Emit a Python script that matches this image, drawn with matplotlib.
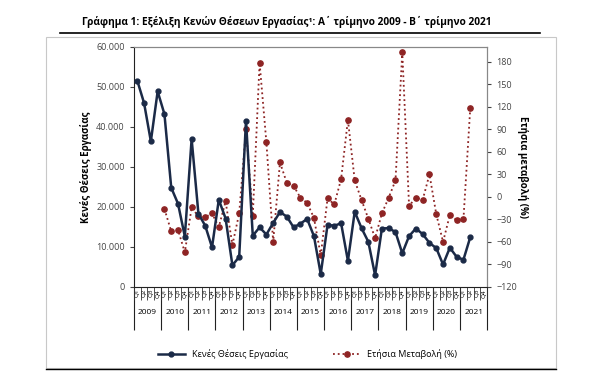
import matplotlib.pyplot as plt
from matplotlib.ticker import FuncFormatter
from matplotlib.lines import Line2D
from matplotlib.patches import Rectangle

plt.rcParams["font.family"] = ["Open Sans", "DejaVu Sans"]

# 2009 Q1 ... 2021 Q4 (data up to 2021 Q2)
years = [str(y) for y in range(2009, 2022)]
quarters = ["Q1", "Q2", "Q3", "Q4"]

vacancies = [51600, 46000, 36400, 48900, 43200, 24800, 20800, 12600,
             37000, 18300, 15300, 9900, 21800, 17100, 5400, 7500,
             41600, 12800, 14900, 13100, 16000, 18700, 17600, 14900,
             15800, 17000, 12700, 3200, 15500, 15300, 15900, 6500,
             18800, 14700, 11300, 2900, 14600, 14700, 13700, 8400,
             12700, 14600, 13200, 11000, 9700, 5600, 9800, 7500,
             6800, 12400]

# annual change (%), starts at 2010 Q1
annual_change = [-16, -46, -44, -74, -14, -26, -27, -22,
                 -40, -6, -64, -22, 91, -25, 179, 73,
                 -60, 46, 19, 15, -1, -8, -28, -78,
                 -2, -10, 24, 103, 22, -4, -29, -55,
                 -22, -1, 22, 193, -12, -1, -4, 30,
                 -23, -60, -24, -31, -30, 118]

n_slots = len(years) * 4
x_vac = list(range(len(vacancies)))
x_chg = list(range(4, 4 + len(annual_change)))

blue = "#1b2a47"
red = "#8e2424"

fig = plt.figure(figsize=(6.03, 3.82), dpi=100)
# outer frame of the chart
fig.add_artist(Rectangle((0.077, 0.037), 0.845, 0.865, transform=fig.transFigure,
                         fill=False, edgecolor="#c8c8c8", lw=0.8))
fig.add_artist(Line2D([0.077, 0.922], [0.035, 0.035], color="black", lw=1.0))

ax = fig.add_axes([0.222, 0.249, 0.586, 0.628])
ax2 = ax.twinx()

ax.plot(x_vac, vacancies, color=blue, lw=1.8, marker="o", ms=3.5, zorder=3)
ax2.plot(x_chg, annual_change, color=red, lw=1.3, ls=":", marker="o", ms=3.8,
         zorder=2)
ax.set_zorder(ax2.get_zorder() + 1)
ax.patch.set_visible(False)

ax.set_xlim(-0.5, n_slots - 0.5)
ax.set_ylim(0, 60000)
ax.set_yticks(range(0, 60001, 10000))
ax.yaxis.set_major_formatter(FuncFormatter(lambda v, _: f"{v:,.0f}".replace(",", ".")))
ax2.set_ylim(-120, 200)
ax2.set_yticks(range(-120, 181, 30))

ax.tick_params(axis="y", labelsize=6.5, length=3, colors="#444444")
ax2.tick_params(axis="y", labelsize=6.5, length=3, colors="#444444")

ax.set_xticks(range(n_slots))
ax.set_xticklabels(quarters * len(years), rotation=90, fontsize=4.5)
ax.set_xticks([i - 0.5 for i in range(n_slots + 1)], minor=True)
ax.tick_params(axis="x", which="major", length=0, pad=1.5)
ax.tick_params(axis="x", which="minor", length=9, width=0.6, color="#333333")

sec = ax.secondary_xaxis("bottom")
sec.set_xticks([i * 4 - 0.5 for i in range(len(years) + 1)])
sec.set_xticklabels([])
sec.set_xticks([i * 4 + 1.5 for i in range(len(years))], minor=True)
sec.set_xticklabels(years, minor=True, fontsize=6)
sec.tick_params(axis="x", which="major", length=31, width=0.8, color="#222222")
sec.tick_params(axis="x", which="minor", length=0, pad=16)
sec.spines["bottom"].set_visible(False)

for side in ["top", "right"]:
    ax.spines[side].set_color("#888888")
    ax2.spines[side].set_color("#888888")
ax2.spines["left"].set_visible(False)
ax2.spines["bottom"].set_visible(False)
ax.spines["left"].set_color("#222222")
ax.spines["bottom"].set_color("#222222")

ax.set_ylabel("Κενές Θέσεις Εργασίας", fontsize=7, fontweight="bold", labelpad=3)
ax2.set_ylabel("Ετήσια μεταβολή (%)", fontsize=7, fontweight="bold",
               rotation=270, labelpad=8)

fig.text(0.136, 0.942, "Γράφημα 1: Εξέλιξη Κενών Θέσεων Εργασίας¹: Α΄ τρίμηνο 2009 - Β΄ τρίμηνο 2021",
         fontsize=7.3, fontweight="bold", va="center")
fig.add_artist(Line2D([0.1, 0.895], [0.913, 0.913], color="black", lw=1.2))

handles = [Line2D([], [], color=blue, lw=1.8, marker="o", ms=3.5),
           Line2D([], [], color=red, lw=1.3, ls=":", marker="o", ms=3.8)]
fig.legend(handles, ["Κενές Θέσεις Εργασίας", "Ετήσια Μεταβολή (%)"],
           loc="center", bbox_to_anchor=(0.51, 0.073), ncol=2, frameon=False,
           fontsize=6.5, columnspacing=5, handlelength=3)

fig.savefig("out.png", dpi=100)
